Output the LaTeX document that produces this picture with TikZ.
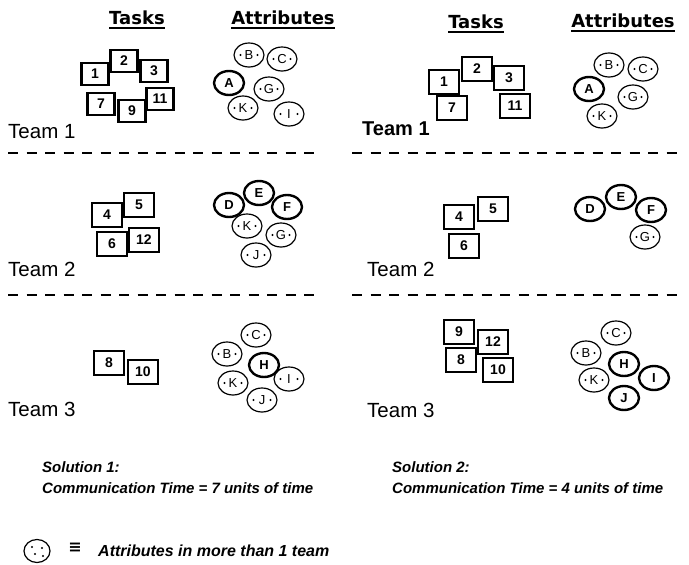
\documentclass[tikz,border=0pt]{standalone}
\usepackage{fontspec}
\setmainfont{Liberation Sans}
\newfontfamily\headfont{DejaVu Sans}
\usetikzlibrary{shapes.geometric}
\begin{document}
\begin{tikzpicture}[x=1pt,y=-1pt,
  heading/.style={font=\headfont\bfseries\fontsize{18}{20}\selectfont, inner sep=0pt},
  uline/.style={line width=2pt},
  team/.style={font=\fontsize{20.5}{23}\selectfont, anchor=west, inner sep=0pt},
  teambold/.style={team, font=\bfseries\fontsize{20}{23}\selectfont},
  task/.style={draw, fill=white, line width=2.5pt, minimum width=30pt, minimum height=24pt, inner sep=0pt, font=\bfseries\fontsize{14}{16}\selectfont},
  smalltask/.style={task, minimum width=27pt, minimum height=22pt},
  attr/.style={draw, fill=white, ellipse, line width=2.4pt, minimum width=30pt, minimum height=24pt, inner sep=0pt, font=\bfseries\fontsize{13}{15}\selectfont},
  shared/.style={attr, line width=1.2pt, font=\fontsize{13}{15}\selectfont, path picture={
     \fill[black] ([xshift=6.5pt]path picture bounding box.west) circle (1.1pt);
     \fill[black] ([xshift=-6.5pt]path picture bounding box.east) circle (1.1pt);}},
  legendmark/.style={draw, ellipse, line width=1.2pt, minimum width=26pt, minimum height=23pt, inner sep=0pt, path picture={
     \fill[black] ([xshift=-5pt,yshift=4pt]path picture bounding box.center) circle (1.1pt);
     \fill[black] ([xshift=5pt,yshift=3pt]path picture bounding box.center) circle (1.1pt);
     \fill[black] ([xshift=-2pt,yshift=-3pt]path picture bounding box.center) circle (1.1pt);
     \fill[black] ([xshift=6pt,yshift=-5pt]path picture bounding box.center) circle (1.1pt);}},
  sep/.style={line width=2.5pt, dash pattern=on 10pt off 8.5pt},
  note/.style={font=\bfseries\itshape\fontsize{15}{17}\selectfont, anchor=west, inner sep=0pt}
]
\useasboundingbox (0,0) rectangle (689,565);

% headings
\node[heading] (hTl) at (137,18) {Tasks};
\node[heading] (hAl) at (283,18) {Attributes};
\node[heading] (hTr) at (476,22) {Tasks};
\node[heading] (hAr) at (623,21) {Attributes};
\foreach \h in {hTl,hAl,hTr,hAr}
  \draw[uline] ([yshift=-3pt]\h.south west) -- ([yshift=-3pt]\h.south east);

% separators
\draw[sep] (8,153) -- (316,153);
\draw[sep] (8,295) -- (316,295);
\draw[sep] (352,153) -- (682,153);
\draw[sep] (352,295) -- (682,295);

% ---------- Solution 1 ----------
% Team 1
\node[smalltask] (l1t1) at (95,74) {1};
\node[smalltask] (l1t2) at (124,61) {2};
\node[smalltask] (l1t3) at (154,71) {3};
\node[smalltask] (l1t7) at (101,104) {7};
\node[smalltask] (l1t11) at (160,99) {11};
\node[smalltask] (l1t9) at (132,111) {9};
\node[shared] (l1B) at (249,55) {B};
\node[shared] (l1C) at (282,59) {C};
\node[attr] (l1A) at (229,83) {A};
\node[shared] (l1G) at (269,89) {G};
\node[shared] (l1K) at (243,108) {K};
\node[shared] (l1I) at (289,114) {I};
\node[team] (l1team) at (8,132) {Team 1};

% Team 2
\node[task] (l2t4) at (107,215) {4};
\node[task] (l2t5) at (139,205) {5};
\node[task] (l2t6) at (112,244) {6};
\node[task] (l2t12) at (144,240) {12};
\node[attr] (l2D) at (229,205) {D};
\node[attr] (l2F) at (287,207) {F};
\node[attr] (l2E) at (259,193) {E};
\node[shared] (l2K) at (247,226) {K};
\node[shared] (l2G) at (281,235) {G};
\node[shared] (l2J) at (256,255) {J};
\node[team] (l2team) at (8,269) {Team 2};

% Team 3
\node[task] (l3t8) at (109,363) {8};
\node[task] (l3t10) at (143,372) {10};
\node[shared] (l3C) at (256,335) {C};
\node[shared] (l3B) at (227,354) {B};
\node[attr] (l3H) at (264,365) {H};
\node[shared] (l3I) at (289,379) {I};
\node[shared] (l3K) at (233,383) {K};
\node[shared] (l3J) at (262,400) {J};
\node[team] (l3team) at (8,409) {Team 3};

% ---------- Solution 2 ----------
% Team 1
\node[task] (r1t1) at (444,82) {1};
\node[task] (r1t2) at (477,69) {2};
\node[task] (r1t3) at (509,78) {3};
\node[task] (r1t7) at (452,108) {7};
\node[task] (r1t11) at (515,106) {11};
\node[shared] (r1B) at (609,65) {B};
\node[shared] (r1C) at (643,69) {C};
\node[attr] (r1A) at (589,89) {A};
\node[shared] (r1G) at (633,97) {G};
\node[shared] (r1K) at (602,116) {K};
\node[teambold] (r1team) at (362,129) {Team 1};

% Team 2
\node[task] (r2t4) at (459,217) {4};
\node[task] (r2t5) at (493,209) {5};
\node[task] (r2t6) at (464,246) {6};
\node[attr] (r2D) at (590,209) {D};
\node[attr] (r2F) at (651,210) {F};
\node[attr] (r2E) at (621,197) {E};
\node[shared] (r2G) at (645,237) {G};
\node[team] (r2team) at (367,269) {Team 2};

% Team 3
\node[task] (r3t9) at (459,332) {9};
\node[task] (r3t12) at (493,342) {12};
\node[task] (r3t8) at (461,360) {8};
\node[task] (r3t10) at (498,370) {10};
\node[shared] (r3C) at (616,333) {C};
\node[shared] (r3B) at (586,353) {B};
\node[attr] (r3H) at (624,364) {H};
\node[attr] (r3I) at (654,378) {I};
\node[shared] (r3K) at (594,380) {K};
\node[attr] (r3J) at (624,398) {J};
\node[team] (r3team) at (367,410) {Team 3};

% ---------- notes ----------
\node[note] (s1a) at (42,467) {Solution 1:};
\node[note] (s1b) at (42,488) {Communication Time = 7 units of time};
\node[note] (s2a) at (392,467) {Solution 2:};
\node[note] (s2b) at (392,488) {Communication Time = 4 units of time};

\node[legendmark] (leg) at (37,551) {};
\node[font=\headfont\bfseries\fontsize{16}{18}\selectfont, inner sep=0pt] (legeq) at (75,548) {≡};
\node[note, font=\bfseries\itshape\fontsize{16}{18}\selectfont] (legtext) at (98,551) {Attributes in more than 1 team};
\end{tikzpicture}
\end{document}
